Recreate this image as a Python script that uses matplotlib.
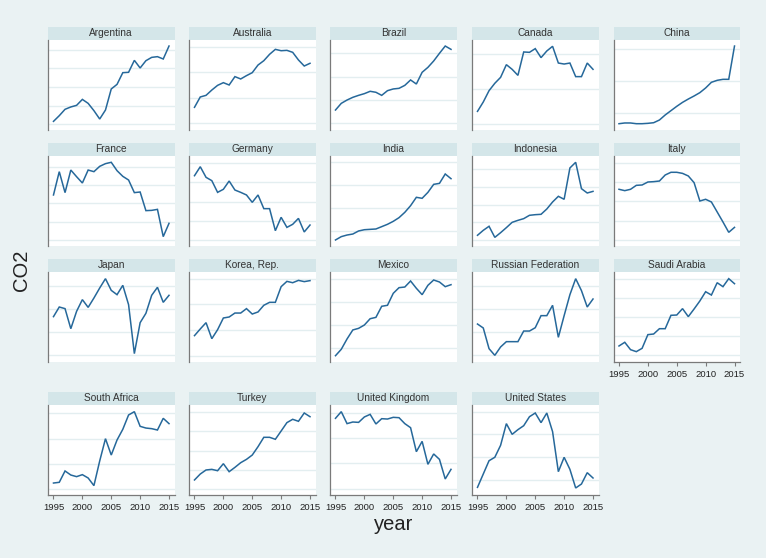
import matplotlib
matplotlib.use("Agg")
import matplotlib.pyplot as plt
from matplotlib.patches import Rectangle

plt.rcParams['font.family'] = ['Liberation Sans', 'DejaVu Sans']

years = list(range(1995, 2016))

# Relative CO2 level per country (0-100 = bottom-top of each panel)
argentina = [9.6, 15.9, 23.0, 25.6, 27.4, 34.0, 29.6, 21.5, 12.2, 22.2, 45.6, 50.7, 63.7, 64.1, 77.4, 68.9, 77.0, 80.7, 81.5, 78.9, 93.3]
australia = [25.2, 36.7, 38.5, 44.4, 49.6, 52.6, 50.0, 59.3, 56.7, 60.4, 63.7, 72.2, 77.0, 84.1, 89.6, 88.1, 88.5, 86.3, 77.8, 71.1, 74.1]
brazil = [22.2, 29.6, 33.3, 36.3, 38.5, 40.4, 43.0, 41.9, 38.5, 43.7, 45.6, 46.3, 49.6, 55.6, 51.1, 64.1, 69.6, 76.7, 85.2, 93.3, 89.6]
canada = [20.7, 31.1, 43.7, 51.9, 58.5, 72.6, 67.4, 60.7, 86.7, 86.3, 90.4, 80.4, 87.8, 93.0, 74.4, 73.3, 74.4, 59.3, 59.3, 74.4, 67.4]
china = [7.0, 7.8, 7.8, 7.0, 7.0, 7.4, 8.1, 11.1, 16.7, 21.5, 26.3, 30.7, 34.4, 37.8, 41.5, 46.7, 53.0, 55.2, 56.3, 56.3, 93.3]
france = [56.7, 82.6, 59.3, 84.4, 77.0, 70.0, 84.4, 82.6, 88.5, 91.5, 93.0, 83.7, 77.4, 73.3, 59.3, 60.0, 39.3, 39.6, 40.7, 10.4, 25.2]
germany = [78.1, 88.1, 76.3, 72.6, 59.6, 63.0, 72.2, 62.2, 59.6, 56.7, 48.5, 56.7, 41.5, 41.5, 17.0, 31.9, 20.7, 24.1, 30.7, 15.6, 23.3]
india = [6.7, 10.4, 12.2, 13.3, 16.7, 18.1, 18.5, 18.9, 21.5, 24.1, 27.4, 31.5, 37.4, 44.8, 54.1, 53.0, 59.6, 68.5, 69.6, 80.0, 74.8]
indonesia = [11.9, 17.4, 21.9, 9.6, 14.8, 20.4, 26.3, 28.5, 30.4, 34.1, 34.8, 35.2, 41.1, 48.9, 55.2, 51.9, 86.7, 93.0, 63.7, 58.9, 60.7]
italy = [63.0, 61.5, 63.0, 67.4, 67.8, 71.1, 71.5, 72.2, 78.9, 81.9, 81.9, 80.7, 77.8, 70.4, 50.0, 51.9, 48.9, 37.8, 26.7, 15.2, 20.7]
japan = [50.4, 61.1, 59.3, 37.0, 56.3, 69.3, 60.7, 71.1, 82.2, 92.6, 79.6, 74.8, 85.2, 63.7, 9.3, 43.7, 54.1, 74.1, 83.0, 66.3, 74.1]
korea = [29.3, 36.7, 43.7, 25.9, 35.9, 48.9, 50.0, 54.4, 54.4, 59.3, 53.3, 55.6, 63.0, 66.3, 66.3, 83.7, 89.6, 88.1, 90.7, 89.3, 90.4]
mexico = [7.0, 14.1, 25.6, 35.6, 37.4, 41.1, 48.1, 49.6, 61.9, 63.0, 76.3, 82.6, 83.3, 90.0, 81.9, 74.8, 85.2, 91.1, 88.9, 83.7, 85.9]
russia = [42.2, 37.8, 14.8, 7.4, 16.7, 22.6, 22.6, 22.6, 34.4, 34.4, 38.1, 51.5, 51.5, 63.0, 27.4, 51.5, 74.8, 92.6, 79.3, 61.1, 70.0]
saudi = [17.8, 21.9, 13.7, 11.5, 15.2, 30.4, 31.1, 37.0, 37.0, 51.9, 52.2, 59.3, 50.4, 58.9, 67.8, 78.1, 74.4, 88.1, 83.7, 92.6, 87.0]
south_africa = [13.3, 14.1, 26.7, 22.2, 20.4, 22.6, 18.9, 10.4, 37.8, 62.6, 44.4, 61.1, 73.0, 88.9, 92.6, 76.3, 74.4, 73.7, 72.2, 85.2, 79.3]
turkey = [16.7, 23.3, 27.8, 28.5, 27.0, 34.8, 25.9, 30.7, 35.9, 39.6, 44.4, 53.7, 64.1, 64.1, 61.9, 71.1, 80.4, 84.1, 81.9, 91.1, 87.0]
uk = [85.2, 92.6, 79.3, 81.1, 80.7, 86.7, 89.6, 78.9, 84.8, 84.4, 86.3, 85.9, 79.3, 74.8, 48.1, 59.6, 34.1, 45.6, 39.6, 17.8, 28.5]
us = [8.5, 23.3, 38.1, 41.9, 55.2, 79.3, 67.4, 72.6, 77.0, 87.0, 91.1, 80.4, 91.1, 70.4, 25.9, 41.9, 28.5, 7.8, 12.2, 24.8, 18.9]

countries = ["Argentina", "Australia", "Brazil", "Canada", "China",
             "France", "Germany", "India", "Indonesia", "Italy",
             "Japan", "Korea, Rep.", "Mexico", "Russian Federation", "Saudi Arabia",
             "South Africa", "Turkey", "United Kingdom", "United States"]
series = [argentina, australia, brazil, canada, china,
          france, germany, india, indonesia, italy,
          japan, korea, mexico, russia, saudi,
          south_africa, turkey, uk, us]
# gridline levels per panel (same relative scale)
grids = [[88.9, 68.5, 47.4, 27.0, 6.3], [92.6, 64.1, 35.9, 7.4], [85.2, 58.5, 33.0, 7.4],
         [84.4, 45.6, 6.7], [89.6, 54.1, 18.5],
         [87.4, 67.8, 47.4, 27.0, 6.7], [92.6, 71.1, 49.3, 27.8, 6.7], [93.3, 67.8, 41.9, 16.7],
         [85.2, 65.2, 45.9, 26.3, 6.7], [92.6, 71.1, 49.6, 27.8, 6.7],
         [84.8, 58.9, 33.0, 7.4], [92.2, 64.4, 35.2, 6.3], [91.9, 66.7, 41.1, 15.6],
         [84.8, 59.3, 33.3, 8.1], [92.6, 71.1, 49.6, 28.5, 7.4],
         [90.7, 62.6, 34.4, 6.7], [92.6, 70.7, 48.9, 27.4, 6.3], [91.1, 63.3, 35.2, 7.0],
         [92.6, 67.4, 41.9, 16.7]]
xticks = [1995, 2000, 2005, 2010, 2015]

W, H = 766, 558
BG = "#EAF2F3"
STRIP = "#D4E6E9"
GRID = "#E3EEF0"
LINE = "#26689A"

fig = plt.figure(figsize=(W / 100, H / 100), dpi=100, facecolor=BG)

col_left = [48, 189, 330, 472, 613.5]
pw = 126.5
row_top = [40, 156, 272, 405]
ph = 90
sh = 13.5

for i, (name, vals, g) in enumerate(zip(countries, series, grids)):
    r, c = divmod(i, 5)
    left = col_left[c]
    top = row_top[r]
    ax = fig.add_axes([left / W, 1 - (top + ph) / H, pw / W, ph / H])
    ax.set_facecolor("white")
    ax.plot(years, vals, color=LINE, lw=1.1, solid_joinstyle="miter")
    ax.set_xlim(1994.05, 2015.95)
    ax.set_ylim(0, 100)
    ax.set_yticks(g)
    ax.grid(axis="y", color=GRID, lw=1.0)
    ax.set_axisbelow(True)
    ax.tick_params(axis="y", left=False, labelleft=False)
    for s in ["top", "right"]:
        ax.spines[s].set_visible(False)
    ax.spines["left"].set_color("#7a7a7a")
    ax.spines["left"].set_linewidth(0.9)
    has_x = (r == 3) or (name == "Saudi Arabia")
    if has_x:
        ax.set_xticks(xticks)
        ax.spines["bottom"].set_color("#7a7a7a")
        ax.spines["bottom"].set_linewidth(0.9)
        ax.tick_params(axis="x", length=3, color="#7a7a7a", labelsize=6.8,
                       labelcolor="#222222", pad=2.5)
    else:
        ax.spines["bottom"].set_visible(False)
        ax.tick_params(axis="x", bottom=False, labelbottom=False)
    # title strip
    hrel = sh / ph
    ax.add_patch(Rectangle((0, 1.0), 1, hrel, transform=ax.transAxes,
                           facecolor=STRIP, edgecolor="none", clip_on=False))
    ax.text(0.5, 1 + hrel / 2, name, transform=ax.transAxes, ha="center",
            va="center", fontsize=7.3, color="#333333")

fig.text(22 / W, 1 - 270 / H, "CO2", rotation=90, ha="center", va="center",
         fontsize=14.5, color="#222222")
fig.text(394 / W, 1 - 524 / H, "year", ha="center", va="center",
         fontsize=14.5, color="#222222")

fig.savefig("out.png", dpi=100, facecolor=BG)
